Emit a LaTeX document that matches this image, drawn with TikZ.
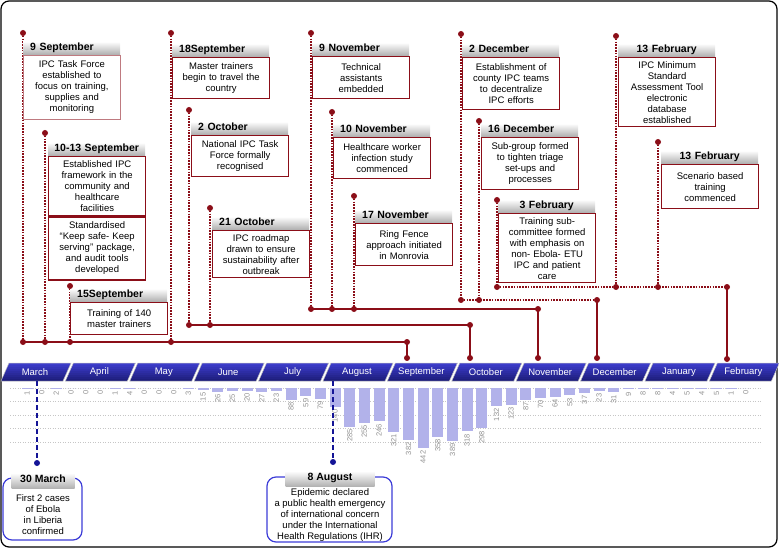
\documentclass[tikz,border=0pt]{standalone}
\usepackage{fontspec}
\setmainfont{Liberation Sans}
\usetikzlibrary{positioning,fit}

\definecolor{tlred}{RGB}{139,14,24}
\definecolor{tlnavy}{RGB}{20,20,150}
\definecolor{barblue}{RGB}{178,178,234}
\definecolor{callblue}{RGB}{60,60,215}
\definecolor{bannertop}{rgb}{0.24,0.24,0.80}
\definecolor{bannerbot}{rgb}{0.10,0.10,0.45}

\begin{document}
\begin{tikzpicture}[
  x = 1pt, y = -1pt,
  font = \fontsize{9.5}{11}\selectfont,
  evbox/.style    = {draw=tlred, line width=1.3pt, fill=white, anchor=north west,
                     minimum width=97pt, text width=93pt, inner xsep=2pt,
                     inner ysep=0pt, align=center},
  datehd/.style   = {anchor=south west, top color=white, bottom color=black!30,
                     font=\fontsize{10.5}{12}\selectfont\bfseries,
                     text width=83pt, inner xsep=7pt, inner ysep=0pt,
                     text height=8.5pt, text depth=4pt, align=left, yshift=0.7pt},
  hdc/.style      = {datehd, align=center, text width=95pt, inner xsep=1pt},
  tickline/.style = {draw=tlred, line width=1.8pt, dash pattern=on 1.6pt off 1.2pt},
  busline/.style  = {draw=tlred, line width=1.6pt},
  month/.style    = {minimum height=18pt, inner sep=0pt, text=white,
                     font=\fontsize{9.5}{11}\selectfont},
  cnt/.style      = {rotate=90, anchor=east, inner sep=0.5pt, text=gray!85,
                     font=\fontsize{7.5}{8}\selectfont},
  gridline/.style = {draw=gray!45, line width=0.4pt, dash pattern=on 1pt off 1.5pt},
  navydash/.style = {draw=tlnavy, line width=1.8pt, dash pattern=on 5pt off 3pt},
  callbox/.style  = {draw=callblue, line width=1.2pt, rounded corners=9pt, inner sep=0pt},
  calltxt/.style  = {align=center, inner sep=0pt},
  callhd/.style   = {top color=white, bottom color=black!30,
                     font=\fontsize{10.5}{12}\selectfont\bfseries,
                     inner xsep=0pt, inner ysep=0pt, text height=9pt, text depth=6pt,
                     anchor=base},
]
\useasboundingbox (0,0) rectangle (779,548);
\draw[line width=1.2pt, rounded corners=8pt] (1,1) rectangle (777,547);

% Weekly case counts
\foreach \g in {388,401.5,415,428.5,442}
  \draw[gridline] (10,\g) -- (762,\g);
\foreach \v [count=\k from 0] in {1,0,2,0,0,0,1,4,0,0,0,3,15,26,25,20,27,23,88,59,79,
    140,285,255,246,321,382,442,358,389,318,298,132,123,87,70,64,53,37,23,31,
    9,8,8,4,5,4,5,1,0}{
  \fill[barblue] ({27+14.67*\k-5.5},388) rectangle ({27+14.67*\k+5.5},{388+0.1357*\v});
  \node[cnt] (c\k) at ({27+14.67*\k},{390+0.1357*\v}) {\v};
}

% Month banners
\foreach \m [count=\i from 0] in {March,April,May,June,July,August,September,
    October,November,December,January,February}{
  \begin{scope}
    \clip ({1+64.4*\i},381) -- ({63+64.4*\i},381) -- ({71+64.4*\i},363)
      -- ({9+64.4*\i},363) -- cycle;
    \foreach \s [evaluate=\s as \p using int(100-11*\s)] in {0,...,9}
      \fill[bannertop!\p!bannerbot] ({64.4*\i},{363+2*\s}) rectangle ++(75,2.2);
  \end{scope}
  \draw[gray!50, line width=0.5pt] ({1+64.4*\i},381) -- ({63+64.4*\i},381)
    -- ({71+64.4*\i},363) -- ({9+64.4*\i},363) -- cycle;
  \node[month] (m\i) at ({35+64.4*\i},372) {\m};
}

% Dot positions on top
\coordinate (s9t)  at (23,33);
\coordinate (s10t) at (45,133);
\coordinate (s15t) at (70,286);
\coordinate (s18t) at (171,33);
\coordinate (o2t)  at (189,110);
\coordinate (o21t) at (210,208);
\coordinate (n9t)  at (311,33);
\coordinate (n10t) at (332,112);
\coordinate (n17t) at (354,196);
\coordinate (d2t)  at (461,34);
\coordinate (d16t) at (479,121);
\coordinate (f3t)  at (497,200);
\coordinate (f13t) at (616,36);
\coordinate (f13st) at (658,142);

% Month joints
\coordinate (sepc) at (407,342);  \coordinate (sepm) at (407,358);
\coordinate (octc) at (470,325);  \coordinate (octm) at (470,358);
\coordinate (novc) at (538,309);  \coordinate (novm) at (538,358);
\coordinate (decc) at (597,300);  \coordinate (decm) at (597,358);
\coordinate (febc) at (727,287);  \coordinate (febm) at (727,359);

% Dotted stems
\foreach \a/\b in {s9t/sepc,s10t/sepc,s15t/sepc,s18t/sepc,o2t/octc,o21t/octc,
    n9t/novc,n10t/novc,n17t/novc,d2t/decc,d16t/decc,f3t/febc,f13t/febc,f13st/febc}
  \draw[tickline] (\a) -- (\a |- \b);

% Lines down to the months
\draw[busline] (s9t |- sepc) -- (sepc) -- (sepm);
\draw[busline] (o2t |- octc) -- (octc) -- (octm);
\draw[busline] (n9t |- novc) -- (novc) -- (novm);
\draw[tickline] (d2t |- decc) -- (decc);
\draw[busline] (decc) -- (decm);
\draw[tickline] (f3t |- febc) -- (febc);
\draw[busline] (febc) -- (febm);

% Event boxes
\node[evbox, minimum height=64pt, draw=tlred!55, line width=0.8pt] (s9) at (23,55)
  {IPC Task Force\\established  to\\focus on training,\\supplies and\\monitoring};
\node[datehd] (s9h) at (s9.north west) {9 September};

\node[evbox, minimum height=59pt] (s10) at (48,156)
  {Established IPC\\framework in the\\community and\\healthcare\\facilities};
\node[evbox, minimum height=63pt, below=0pt of s10] (s10k)
  {Standardised\\“Keep safe- Keep\\serving” package,\\and audit tools\\developed};
\node[hdc] (s10h) at (s10.north west) {10-13 September};

\node[evbox, minimum height=32pt] (s15) at (70,302) {Training of 140\\master trainers};
\node[datehd] (s15h) at (s15.north west) {15September};

\node[evbox, minimum height=41pt] (s18) at (172,57) {Master trainers\\begin to travel the\\country};
\node[datehd] (s18h) at (s18.north west) {18September};

\node[evbox, minimum height=41pt] (o2) at (191,135) {National IPC Task\\Force formally\\recognised};
\node[datehd] (o2h) at (o2.north west) {2 October};

\node[evbox, minimum height=47pt] (o21) at (212,230)
  {IPC roadmap\\drawn to ensure\\sustainability after\\outbreak};
\node[datehd] (o21h) at (o21.north west) {21 October};

\node[evbox, minimum height=42pt] (n9) at (312,56) {Technical\\assistants\\embedded};
\node[datehd] (n9h) at (n9.north west) {9 November};

\node[evbox, minimum height=41pt] (n10) at (333,137) {Healthcare worker\\infection study\\commenced};
\node[datehd] (n10h) at (n10.north west) {10 November};

\node[evbox, minimum height=42pt] (n17) at (355,223) {Ring Fence\\approach initiated\\in Monrovia};
\node[datehd] (n17h) at (n17.north west) {17 November};

\node[evbox, minimum height=52pt] (d2) at (462,57)
  {Establishment of\\county IPC teams\\to decentralize\\IPC efforts};
\node[datehd] (d2h) at (d2.north west) {2 December};

\node[evbox, minimum height=52pt] (d16) at (481,137)
  {Sub-group formed\\to tighten triage\\set-ups and\\processes};
\node[datehd] (d16h) at (d16.north west) {16 December};

\node[evbox, minimum height=69pt] (f3) at (498,213)
  {Training sub-\\committee formed\\with emphasis on\\non- Ebola- ETU\\IPC and patient\\care};
\node[hdc] (f3h) at (f3.north west) {3 February};

\node[evbox, minimum height=69pt] (f13) at (618,57)
  {IPC Minimum\\Standard\\Assessment Tool\\electronic\\database\\established};
\node[hdc] (f13h) at (f13.north west) {13 February};

\node[evbox, minimum height=44pt] (f13s) at (661,164) {Scenario based\\training\\commenced};
\node[hdc] (f13sh) at (f13s.north west) {13 February};

% Red dots
\foreach \p in {s9t,s10t,s15t,s18t,o2t,o21t,n9t,n10t,n17t,d2t,d16t,f3t,f13t,f13st,
    sepc,sepm,octc,octm,novc,novm,decc,decm,febc,febm}
  \fill[tlred] (\p) circle (3pt);
\foreach \a/\b in {s9t/sepc,s10t/sepc,s15t/sepc,s18t/sepc,o2t/octc,o21t/octc,
    n9t/novc,n10t/novc,n17t/novc,d2t/decc,d16t/decc,f3t/febc,f13t/febc,f13st/febc}
  \fill[tlred] (\a |- \b) circle (3pt);

% Bottom call-outs
\coordinate (mar30) at (37,463);
\coordinate (aug8)  at (333,462);
\draw[navydash] (mar30 |- m0.south) -- (mar30);
\draw[navydash] (aug8 |- m5.south) -- (aug8);
\fill[tlnavy] (mar30) circle (3pt);
\fill[tlnavy] (aug8) circle (3pt);

\node[callbox, fit={(3,478) (82,540)}] (mar30box) {};
\node[calltxt] (mar30txt) at (43,515) {First 2 cases\\of Ebola\\in Liberia\\confirmed};
\node[callhd, minimum width=63pt] (mar30h) at (43,482) {30 March};

\node[callbox, fit={(267,477) (392,542)}] (aug8box) {};
\node[calltxt] (aug8txt) at (330,515)
  {Epidemic declared\\a public health emergency\\of international concern\\under the International\\Health Regulations (IHR)};
\node[callhd, minimum width=89pt] (aug8h) at (330,480) {8 August};

\end{tikzpicture}
\end{document}
